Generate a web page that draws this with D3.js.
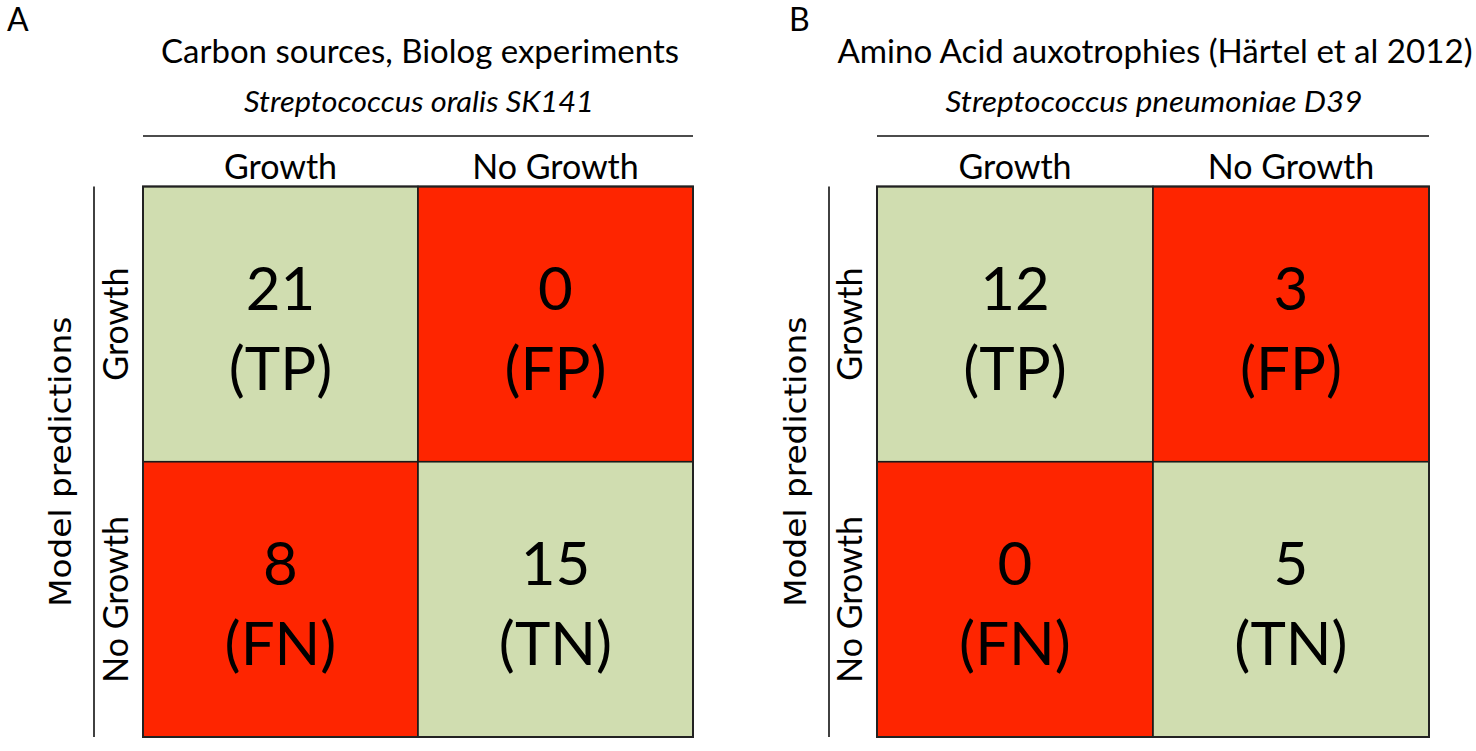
<!DOCTYPE html>
<html>
<head>
<meta charset="utf-8">
<script src="https://cdn.jsdelivr.net/npm/d3@7"></script>
<style>
  html, body { margin: 0; padding: 0; background: #fff; }
  svg { display: block; }
  text { fill: #000; }
</style>
</head>
<body>
<script>
// ---- data ----
const panelLetters = ["A", "B"];
const panelTitles = ["Carbon sources, Biolog experiments", "Amino Acid auxotrophies (Härtel et al 2012)"];
const panelSubtitles = ["Streptococcus oralis SK141", "Streptococcus pneumoniae D39"];
const actualLabels = ["Growth", "No Growth"];      // columns (experiment)
const predictedLabels = ["Growth", "No Growth"];   // rows (model)
const rowAxisTitle = "Model predictions";
const countsA = [[21, 0], [8, 15]];
const countsB = [[12, 3], [0, 5]];
const cellCodes = [["TP", "FP"], ["FN", "TN"]];
const cellKinds = [["correct", "wrong"], ["wrong", "correct"]];

// ---- layout / style ----
const W = 1476, H = 751;
const colors = { correct: "#d0ddb0", wrong: "#fe2500" };
const layouts = [
  { left: 143, right: 693, axisX: 94, letterX: 7, titleW: 518, subW: 350 },
  { left: 877, right: 1429, axisX: 829, letterX: 789, titleW: 635, subW: 417 }
];
const gridTop = 186.5, gridBottom = 737;
const calibriLike = "Lato, 'Open Sans', 'Noto Sans', sans-serif";

const svg = d3.select("body").append("svg")
  .attr("width", W).attr("height", H)
  .attr("viewBox", `0 0 ${W} ${H}`);

const allCounts = [countsA, countsB];

panelLetters.forEach((letter, p) => {
  const L = layouts[p];
  const counts = allCounts[p];
  const g = svg.append("g");

  const x = d3.scaleBand().domain(actualLabels).range([L.left, L.right]).padding(0);
  const y = d3.scaleBand().domain(predictedLabels).range([gridTop, gridBottom]).padding(0);
  const cx = (L.left + L.right) / 2;

  // panel letter
  g.append("text").attr("x", L.letterX).attr("y", 31)
    .style("font-family", calibriLike).style("font-size", "32px")
    .text(letter);

  // title
  g.append("text").attr("x", cx + 2).attr("y", 63)
    .attr("text-anchor", "middle")
    .attr("textLength", L.titleW).attr("lengthAdjust", "spacingAndGlyphs")
    .style("font-family", calibriLike).style("font-size", "33px")
    .text(panelTitles[p]);

  // subtitle (italic)
  g.append("text").attr("x", cx + 1).attr("y", 112)
    .attr("text-anchor", "middle")
    .attr("textLength", L.subW).attr("lengthAdjust", "spacingAndGlyphs")
    .style("font-family", calibriLike).style("font-size", "29px").style("font-style", "italic")
    .text(panelSubtitles[p]);

  // top rule
  g.append("line").attr("x1", L.left).attr("x2", L.right)
    .attr("y1", 136).attr("y2", 136)
    .attr("stroke", "#111").attr("stroke-width", 1.6);

  // left rule
  g.append("line").attr("x1", L.axisX).attr("x2", L.axisX)
    .attr("y1", gridTop).attr("y2", gridBottom)
    .attr("stroke", "#111").attr("stroke-width", 1.6);

  // column labels
  g.selectAll("text.col").data(actualLabels).enter().append("text")
    .attr("class", "col")
    .attr("x", d => x(d) + x.bandwidth() / 2)
    .attr("y", 179)
    .attr("text-anchor", "middle")
    .style("font-family", calibriLike).style("font-size", "34px")
    .text(d => d);

  // row labels (rotated)
  g.selectAll("text.row").data(predictedLabels).enter().append("text")
    .attr("class", "row")
    .attr("transform", d => `translate(${L.left - 15},${y(d) + y.bandwidth() / 2}) rotate(-90)`)
    .attr("text-anchor", "middle")
    .style("font-family", calibriLike).style("font-size", "34px")
    .text(d => d);

  // row axis title
  g.append("text")
    .attr("transform", `translate(${L.axisX - 23},${(gridTop + gridBottom) / 2}) rotate(-90)`)
    .attr("text-anchor", "middle")
    .attr("textLength", 290).attr("lengthAdjust", "spacingAndGlyphs")
    .style("font-family", "'DejaVu Sans', Verdana, sans-serif").style("font-size", "31px")
    .text(rowAxisTitle);

  // cells
  const cells = [];
  predictedLabels.forEach((r, i) => actualLabels.forEach((c, j) => {
    cells.push({ row: r, col: c, value: counts[i][j], code: cellCodes[i][j], kind: cellKinds[i][j] });
  }));

  g.selectAll("rect.cell").data(cells).enter().append("rect")
    .attr("class", "cell")
    .attr("x", d => x(d.col)).attr("y", d => y(d.row))
    .attr("width", x.bandwidth()).attr("height", y.bandwidth())
    .attr("fill", d => colors[d.kind])
    .attr("stroke", "#1a1a1a").attr("stroke-width", 1.6);

  // outer border slightly heavier
  g.append("rect")
    .attr("x", L.left).attr("y", gridTop)
    .attr("width", L.right - L.left).attr("height", gridBottom - gridTop)
    .attr("fill", "none").attr("stroke", "#222").attr("stroke-width", 2);

  g.selectAll("text.val").data(cells).enter().append("text")
    .attr("class", "val")
    .attr("x", d => x(d.col) + x.bandwidth() / 2)
    .attr("y", d => y(d.row) + y.bandwidth() / 2 - 14)
    .attr("text-anchor", "middle")
    .style("font-family", calibriLike).style("font-size", "60px")
    .text(d => d.value);

  g.selectAll("text.code").data(cells).enter().append("text")
    .attr("class", "code")
    .attr("x", d => x(d.col) + x.bandwidth() / 2)
    .attr("y", d => y(d.row) + y.bandwidth() / 2 + 66)
    .attr("text-anchor", "middle")
    .style("font-family", calibriLike).style("font-size", "60px")
    .text(d => `(${d.code})`);
});
</script>
</body>
</html>
